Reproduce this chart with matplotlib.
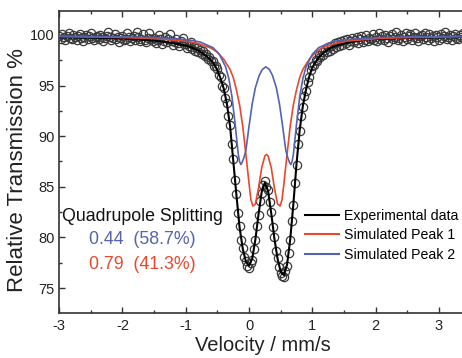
import numpy as np
import matplotlib
matplotlib.use("Agg")
import matplotlib.pyplot as plt
from matplotlib.lines import Line2D
from matplotlib.ticker import MultipleLocator

plt.rcParams['font.family'] = ['Liberation Sans', 'DejaVu Sans']
plt.rcParams['axes.unicode_minus'] = False

# experimental points, one per velocity channel (-3.000 ... 3.400 mm/s, 257 channels)
velocity = np.linspace(-3.0, 3.4, 257)
transmission = [
    99.9, 99.6, 100.1, 99.8, 99.5, 99.9, 100.2, 99.7, 99.6, 100.0,
    99.8, 99.5, 99.9, 100.1, 99.7, 99.4, 99.8, 100.0, 99.6, 99.9,
    100.2, 99.7, 99.5, 99.8, 99.9, 99.6, 100.0, 99.8, 99.4, 99.7,
    99.9, 100.3, 99.8, 99.5, 99.7, 100.1, 99.6, 99.8, 99.3, 99.7,
    99.9, 99.5, 99.6, 100.2, 99.8, 99.4, 99.7, 99.9, 99.5, 100.3,
    99.8, 99.4, 99.6, 100.1, 99.5, 99.3, 99.7, 100.2, 99.6, 99.4,
    99.7, 99.2, 99.5, 100.0, 99.6, 99.1, 99.4, 99.8, 99.3, 99.6,
    100.1, 99.4, 99.0, 99.3, 99.6, 99.2, 98.9, 99.4, 99.7, 99.1,
    99.1, 98.7, 98.9, 99.3, 98.6, 98.8, 98.4, 98.7, 98.3, 98.5,
    98.1, 98.4, 97.9, 98.1, 97.6, 97.8, 97.4, 97.4, 96.9, 96.9,
    96.6, 96.0, 95.8, 95.0, 94.8, 93.8, 93.3, 92.0, 91.1, 89.2,
    87.7, 85.7, 84.3, 82.4, 81.1, 79.7, 79.0, 78.1, 77.7, 77.2,
    77.0, 77.5, 77.8, 78.9, 79.7, 81.1, 82.2, 83.6, 84.4, 85.2,
    85.6, 85.0, 84.7, 83.5, 82.5, 81.0, 80.0, 78.7, 78.0, 77.1,
    76.5, 76.2, 76.1, 76.7, 77.2, 78.5, 79.7, 81.6, 83.2, 85.4,
    87.2, 89.2, 90.5, 92.0, 92.9, 94.0, 94.5, 95.4, 95.8, 96.5,
    96.9, 97.0, 97.5, 97.4, 98.0, 97.8, 98.3, 98.0, 98.5, 98.3,
    98.8, 98.4, 98.9, 98.6, 99.2, 98.8, 99.3, 98.9, 99.4, 99.0,
    99.5, 99.2, 99.6, 99.0, 99.4, 99.7, 99.3, 99.5, 99.8, 99.2,
    99.6, 99.9, 99.3, 99.5, 100.0, 99.4, 99.7, 99.6, 100.1, 99.5,
    99.8, 99.4, 100.2, 99.6, 99.9, 99.5, 100.0, 99.7, 99.3, 99.9,
    100.1, 99.6, 99.8, 100.3, 99.5, 99.7, 100.0, 99.4, 99.8, 100.2,
    99.6, 99.9, 100.1, 99.5, 99.8, 100.2, 99.7, 99.4, 99.9, 100.0,
    99.6, 100.2, 99.8, 99.5, 100.1, 99.7, 99.9, 99.4, 100.0, 99.8,
    99.5, 100.1, 99.7, 99.9, 100.3, 99.6, 99.8, 100.0, 99.5, 99.9,
    100.1, 99.7, 99.6, 100.0, 99.8, 100.2, 99.7,
]

# fitted envelope
fit_v = [-3.0, -2.5, -2.0, -1.5, -1.2, -1.0, -0.9, -0.8, -0.7, -0.6, -0.55,
         -0.5, -0.45, -0.4, -0.35, -0.3, -0.25, -0.2, -0.15, -0.1, -0.05,
         0.0, 0.05, 0.1, 0.15, 0.2, 0.25, 0.3, 0.35, 0.4, 0.45, 0.5, 0.55,
         0.6, 0.65, 0.7, 0.75, 0.8, 0.85, 0.9, 0.95, 1.0, 1.1, 1.2, 1.3,
         1.4, 1.6, 1.8, 2.0, 2.5, 3.0, 3.5]
fit_t = [99.78, 99.74, 99.66, 99.45, 99.2, 98.95, 98.75, 98.45, 98.05, 97.5, 97.1,
         96.5, 95.7, 94.7, 93.2, 91.0, 87.6, 84.2, 81.0, 78.9, 77.6,
         77.2, 77.9, 79.8, 82.3, 84.5, 85.4, 84.6, 82.4, 79.9, 77.9, 76.6, 76.3,
         77.3, 79.8, 83.3, 87.3, 90.6, 93.0, 94.6, 95.9, 96.8, 97.8, 98.35, 98.75,
         99.0, 99.3, 99.5, 99.6, 99.72, 99.78, 99.8]

# simulated peak 1 (red)
peak1_v = [-3.0, -2.0, -1.5, -1.0, -0.8, -0.6, -0.5, -0.4, -0.3, -0.25, -0.2,
           -0.15, -0.1, -0.05, 0.0, 0.03, 0.06, 0.1, 0.15, 0.2, 0.25, 0.275,
           0.3, 0.35, 0.4, 0.45, 0.49, 0.52, 0.55, 0.6, 0.65, 0.7, 0.75, 0.8,
           0.85, 0.95, 1.05, 1.15, 1.35, 1.55, 2.05, 2.55, 3.5]
peak1_t = [99.85, 99.75, 99.65, 99.4, 99.15, 98.7, 98.3, 97.6, 96.6, 95.8, 94.6,
           93.1, 91.0, 88.2, 85.3, 83.7, 83.1, 83.3, 84.9, 86.9, 88.05, 88.2,
           88.05, 86.9, 84.9, 83.3, 83.1, 83.7, 85.3, 88.2, 91.0, 93.1, 94.6, 95.8,
           96.6, 97.6, 98.3, 98.7, 99.15, 99.4, 99.65, 99.75, 99.85]

# simulated peak 2 (blue)
peak2_v = [-3.0, -1.97, -1.47, -0.97, -0.77, -0.57, -0.47, -0.37, -0.32, -0.27,
           -0.22, -0.17, -0.15, -0.13, -0.11, -0.08, -0.05, 0.0, 0.05, 0.1, 0.16,
           0.21, 0.265, 0.32, 0.37, 0.43, 0.48, 0.53, 0.58, 0.61, 0.64, 0.66,
           0.68, 0.7, 0.75, 0.8, 0.85, 0.9, 1.0, 1.1, 1.3, 1.5, 2.0, 2.5, 3.5]
peak2_t = [99.86, 99.81, 99.74, 99.53, 99.3, 98.75, 98.1, 96.85, 95.7, 93.9,
           91.2, 88.2, 87.5, 87.2, 87.4, 87.9, 88.6, 91.0, 93.2, 94.8, 96.0,
           96.6, 96.85, 96.6, 96.0, 94.8, 93.2, 91.0, 88.6, 87.9, 87.4, 87.2,
           87.5, 88.2, 91.2, 93.9, 95.7, 96.85, 98.1, 98.75, 99.3, 99.53, 99.74, 99.81, 99.86]

red = '#e8492e'
blue = '#5563b0'

fig = plt.figure(figsize=(4.62, 3.58), dpi=100)
ax = fig.add_axes([0.128, 0.1257, 0.8907, 0.8436])

ax.plot(velocity, transmission, 'o', ms=6, mfc='none', mec='#3a3a3a', mew=0.9, zorder=2)
ax.plot(fit_v, fit_t, color='black', lw=1.5, zorder=3)
ax.plot(peak1_v, peak1_t, color=red, lw=1.2, zorder=4)
ax.plot(peak2_v, peak2_t, color=blue, lw=1.2, zorder=4)

ax.set_xlim(-3, 3.5)
ax.set_ylim(72.53, 102.37)
ax.xaxis.set_major_locator(MultipleLocator(1))
ax.xaxis.set_minor_locator(MultipleLocator(0.5))
ax.yaxis.set_major_locator(MultipleLocator(5))
ax.yaxis.set_minor_locator(MultipleLocator(2.5))
ax.tick_params(which='both', direction='in', top=True, right=True, colors='#333333',
               labelsize=10.5, labelcolor='#222222', width=1.0)
ax.tick_params(which='major', length=4)
ax.tick_params(which='minor', length=2.5)
ax.tick_params(axis='x', pad=4.5)
ax.tick_params(axis='y', pad=3)
for s in ax.spines.values():
    s.set_linewidth(1.2)
    s.set_color('#333333')

ax.set_xlabel('Velocity / mm/s', fontsize=14.5, color='#222222')
ax.set_ylabel('Relative Transmission %', fontsize=16, color='#222222')
ax.xaxis.set_label_coords(0.494, -0.076)
ax.yaxis.set_label_coords(-0.076, 0.474)

ax.text(0.006, 0.321, 'Quadrupole Splitting', transform=ax.transAxes, fontsize=12.8,
        ha='left', va='center', color='#111111')
ax.text(0.073, 0.242, '0.44  (58.7%)', transform=ax.transAxes, fontsize=12.8,
        ha='left', va='center', color=blue)
ax.text(0.073, 0.162, '0.79  (41.3%)', transform=ax.transAxes, fontsize=12.8,
        ha='left', va='center', color=red)

handles = [Line2D([], [], color='black', lw=1.5),
           Line2D([], [], color=red, lw=1.5),
           Line2D([], [], color=blue, lw=1.5)]
labels = ['Experimental data', 'Simulated Peak 1', 'Simulated Peak 2']
ax.legend(handles, labels, loc='upper left', bbox_to_anchor=(0.598, 0.346),
          frameon=False, fontsize=10.2, handlelength=2.4, handletextpad=0.35,
          labelspacing=0.42, borderpad=0, borderaxespad=0)

fig.savefig('out.png', dpi=100)
